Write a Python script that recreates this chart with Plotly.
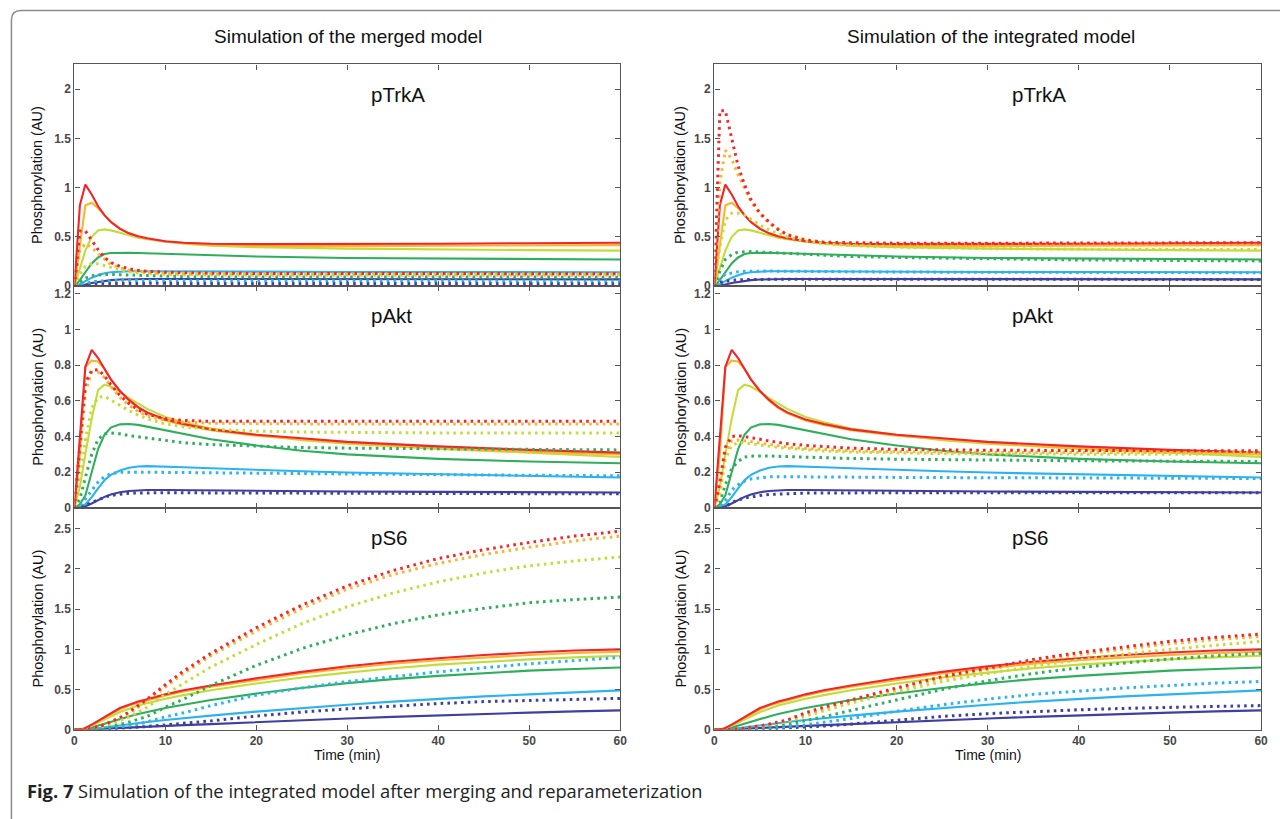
import plotly.graph_objects as go

# ---------------- data ----------------
COLORS = ["#3f3f9e", "#2cb3ee", "#2fae5c", "#c3dc3a", "#fcb32d", "#f0262c"]  # dark blue -> red

X_TICKS = [0, 10, 20, 30, 40, 50, 60]
X_TICK_LABELS = ["0", "10", "20", "30", "40", "50", "60"]

TRKA_TICKS = [0, 0.5, 1, 1.5, 2]
TRKA_TICK_LABELS = ["0", "0.5", "1", "1.5", "2"]
AKT_TICKS = [0, 0.2, 0.4, 0.6, 0.8, 1.0, 1.2]
AKT_TICK_LABELS = ["0", "0.2", "0.4", "0.6", "0.8", "1", "1.2"]
S6_TICKS = [0, 0.5, 1, 1.5, 2, 2.5]
S6_TICK_LABELS = ["0", "0.5", "1", "1.5", "2", "2.5"]

# ---- pTrkA ----
T_TRKA = [0, 0.6, 1.2, 1.9, 2.6, 3.3, 4, 5, 6, 7, 8, 10, 12, 15, 20, 30, 40, 50, 60]
# solid lines (same in both columns), order: dark blue, blue, green, yellow-green, orange, red
TRKA_SOLID = [
    [0, 0.005, 0.015, 0.03, 0.042, 0.052, 0.06, 0.066, 0.07, 0.071, 0.072, 0.072, 0.072, 0.071, 0.07, 0.07, 0.069, 0.068, 0.068],
    [0, 0.02, 0.05, 0.085, 0.11, 0.13, 0.14, 0.148, 0.15, 0.15, 0.15, 0.149, 0.148, 0.146, 0.145, 0.143, 0.142, 0.14, 0.14],
    [0, 0.06, 0.14, 0.23, 0.29, 0.325, 0.335, 0.34, 0.338, 0.335, 0.332, 0.325, 0.318, 0.31, 0.3, 0.285, 0.278, 0.272, 0.27],
    [0, 0.18, 0.36, 0.5, 0.565, 0.575, 0.565, 0.54, 0.515, 0.49, 0.475, 0.45, 0.43, 0.41, 0.395, 0.38, 0.37, 0.365, 0.36],
    [0, 0.4, 0.82, 0.845, 0.79, 0.72, 0.655, 0.585, 0.535, 0.5, 0.48, 0.45, 0.435, 0.42, 0.41, 0.405, 0.41, 0.41, 0.415],
    [0, 0.82, 1.03, 0.93, 0.81, 0.72, 0.65, 0.58, 0.535, 0.505, 0.485, 0.455, 0.44, 0.43, 0.425, 0.425, 0.43, 0.435, 0.44],
]
TRKA_DOT_MERGED = [
    [0, 0.006, 0.012, 0.018, 0.022, 0.025, 0.026, 0.027, 0.027, 0.027, 0.027, 0.027, 0.027, 0.026, 0.026, 0.026, 0.026, 0.026, 0.026],
    [0, 0.015, 0.03, 0.042, 0.05, 0.054, 0.056, 0.057, 0.057, 0.056, 0.056, 0.055, 0.055, 0.054, 0.053, 0.052, 0.052, 0.052, 0.052],
    [0, 0.04, 0.08, 0.105, 0.115, 0.118, 0.118, 0.115, 0.11, 0.105, 0.102, 0.098, 0.095, 0.093, 0.092, 0.09, 0.09, 0.09, 0.09],
    [0, 0.12, 0.2, 0.23, 0.225, 0.21, 0.19, 0.165, 0.145, 0.135, 0.128, 0.12, 0.115, 0.112, 0.11, 0.11, 0.11, 0.11, 0.11],
    [0, 0.36, 0.43, 0.39, 0.33, 0.27, 0.22, 0.185, 0.16, 0.15, 0.14, 0.13, 0.125, 0.122, 0.12, 0.12, 0.12, 0.12, 0.12],
    [0, 0.56, 0.56, 0.46, 0.37, 0.29, 0.24, 0.2, 0.175, 0.16, 0.15, 0.14, 0.135, 0.13, 0.128, 0.126, 0.125, 0.125, 0.125],
]
TRKA_DOT_INTEGRATED = [
    [0, 0.035, 0.05, 0.058, 0.062, 0.065, 0.067, 0.068, 0.069, 0.069, 0.069, 0.069, 0.068, 0.068, 0.068, 0.067, 0.067, 0.067, 0.067],
    [0, 0.07, 0.12, 0.135, 0.145, 0.15, 0.152, 0.152, 0.152, 0.151, 0.15, 0.148, 0.146, 0.144, 0.142, 0.14, 0.138, 0.136, 0.135],
    [0, 0.15, 0.27, 0.32, 0.345, 0.35, 0.35, 0.345, 0.34, 0.335, 0.33, 0.32, 0.31, 0.3, 0.29, 0.275, 0.265, 0.26, 0.255],
    [0, 0.4, 0.67, 0.74, 0.74, 0.72, 0.68, 0.62, 0.57, 0.53, 0.5, 0.455, 0.43, 0.41, 0.395, 0.38, 0.375, 0.37, 0.37],
    [0, 1.05, 1.38, 1.29, 1.13, 0.99, 0.86, 0.73, 0.64, 0.575, 0.525, 0.47, 0.445, 0.43, 0.425, 0.42, 0.42, 0.42, 0.42],
    [0, 1.78, 1.78, 1.5, 1.22, 1.03, 0.88, 0.74, 0.65, 0.575, 0.52, 0.465, 0.445, 0.44, 0.435, 0.435, 0.435, 0.44, 0.44],
]

# ---- pAkt ----
T_AKT = [0, 0.6, 1.2, 1.9, 2.6, 3.3, 4, 5, 6, 7, 8, 10, 12, 15, 20, 25, 30, 40, 50, 60]
AKT_SOLID = [
    [0, 0.003, 0.01, 0.025, 0.045, 0.062, 0.075, 0.088, 0.095, 0.098, 0.1, 0.1, 0.099, 0.098, 0.096, 0.094, 0.092, 0.09, 0.088, 0.086],
    [0, 0.005, 0.02, 0.06, 0.11, 0.155, 0.185, 0.21, 0.225, 0.232, 0.234, 0.232, 0.228, 0.222, 0.212, 0.205, 0.198, 0.188, 0.178, 0.17],
    [0, 0.02, 0.07, 0.2, 0.33, 0.41, 0.45, 0.468, 0.47, 0.465, 0.455, 0.435, 0.415, 0.385, 0.35, 0.32, 0.3, 0.275, 0.26, 0.25],
    [0, 0.12, 0.3, 0.5, 0.66, 0.69, 0.68, 0.65, 0.615, 0.585, 0.555, 0.51, 0.48, 0.445, 0.41, 0.38, 0.36, 0.33, 0.31, 0.285],
    [0, 0.3, 0.79, 0.825, 0.82, 0.78, 0.72, 0.655, 0.6, 0.56, 0.53, 0.49, 0.465, 0.435, 0.405, 0.385, 0.365, 0.335, 0.315, 0.3],
    [0, 0.4, 0.79, 0.885, 0.84, 0.78, 0.72, 0.655, 0.605, 0.565, 0.535, 0.495, 0.47, 0.44, 0.41, 0.39, 0.37, 0.345, 0.325, 0.31],
]
AKT_DOT_MERGED = [
    [0, 0.005, 0.015, 0.03, 0.047, 0.06, 0.07, 0.078, 0.082, 0.084, 0.085, 0.085, 0.085, 0.084, 0.083, 0.083, 0.082, 0.081, 0.08, 0.08],
    [0, 0.01, 0.05, 0.1, 0.145, 0.175, 0.192, 0.2, 0.201, 0.2, 0.2, 0.199, 0.198, 0.196, 0.194, 0.191, 0.189, 0.186, 0.183, 0.18],
    [0, 0.05, 0.17, 0.3, 0.385, 0.415, 0.42, 0.415, 0.405, 0.398, 0.39, 0.375, 0.365, 0.355, 0.345, 0.338, 0.335, 0.33, 0.328, 0.325],
    [0, 0.15, 0.38, 0.56, 0.62, 0.625, 0.605, 0.575, 0.545, 0.52, 0.5, 0.47, 0.455, 0.44, 0.43, 0.425, 0.422, 0.42, 0.42, 0.42],
    [0, 0.3, 0.65, 0.76, 0.76, 0.73, 0.68, 0.62, 0.575, 0.54, 0.515, 0.49, 0.48, 0.475, 0.472, 0.47, 0.47, 0.47, 0.47, 0.47],
    [0, 0.37, 0.7, 0.77, 0.775, 0.74, 0.69, 0.63, 0.585, 0.55, 0.525, 0.5, 0.49, 0.485, 0.485, 0.485, 0.485, 0.485, 0.485, 0.485],
]
AKT_DOT_INTEGRATED = [
    [0, 0.001, 0.005, 0.03, 0.045, 0.055, 0.062, 0.07, 0.075, 0.078, 0.08, 0.083, 0.084, 0.085, 0.085, 0.085, 0.085, 0.085, 0.085, 0.085],
    [0, 0.005, 0.04, 0.1, 0.13, 0.15, 0.162, 0.17, 0.174, 0.175, 0.175, 0.175, 0.174, 0.173, 0.171, 0.17, 0.169, 0.167, 0.166, 0.165],
    [0, 0.03, 0.13, 0.22, 0.26, 0.285, 0.29, 0.292, 0.291, 0.289, 0.287, 0.283, 0.28, 0.277, 0.273, 0.27, 0.267, 0.264, 0.262, 0.26],
    [0, 0.08, 0.27, 0.35, 0.365, 0.365, 0.36, 0.352, 0.345, 0.339, 0.334, 0.325, 0.319, 0.313, 0.307, 0.304, 0.302, 0.3, 0.3, 0.3],
    [0, 0.11, 0.31, 0.375, 0.38, 0.378, 0.372, 0.363, 0.355, 0.348, 0.342, 0.333, 0.327, 0.32, 0.315, 0.312, 0.31, 0.31, 0.31, 0.31],
    [0, 0.145, 0.34, 0.4, 0.405, 0.4, 0.395, 0.385, 0.375, 0.367, 0.36, 0.35, 0.343, 0.335, 0.328, 0.325, 0.323, 0.322, 0.321, 0.32],
]

# ---- pS6 ----
T_S6 = [0, 1, 2, 3, 4, 5, 6, 7, 8, 10, 12, 15, 20, 25, 30, 35, 40, 45, 50, 55, 60]
S6_SOLID = [
    [0, 0.001, 0.005, 0.01, 0.016, 0.022, 0.027, 0.032, 0.037, 0.047, 0.057, 0.07, 0.095, 0.12, 0.14, 0.16, 0.18, 0.198, 0.213, 0.228, 0.24],
    [0, 0.002, 0.012, 0.025, 0.04, 0.055, 0.07, 0.083, 0.095, 0.12, 0.145, 0.175, 0.225, 0.27, 0.31, 0.35, 0.385, 0.415, 0.44, 0.465, 0.49],
    [0, 0.005, 0.03, 0.065, 0.1, 0.135, 0.165, 0.195, 0.22, 0.27, 0.31, 0.37, 0.45, 0.52, 0.58, 0.63, 0.67, 0.705, 0.735, 0.755, 0.775],
    [0, 0.008, 0.055, 0.11, 0.17, 0.22, 0.26, 0.3, 0.33, 0.385, 0.43, 0.49, 0.575, 0.65, 0.71, 0.765, 0.81, 0.845, 0.875, 0.9, 0.92],
    [0, 0.01, 0.065, 0.13, 0.2, 0.255, 0.3, 0.335, 0.365, 0.425, 0.475, 0.535, 0.62, 0.7, 0.765, 0.82, 0.865, 0.9, 0.93, 0.955, 0.97],
    [0, 0.01, 0.07, 0.14, 0.21, 0.27, 0.31, 0.35, 0.38, 0.44, 0.49, 0.55, 0.64, 0.72, 0.79, 0.845, 0.89, 0.93, 0.96, 0.985, 1.0],
]
S6_DOT_MERGED = [
    [0, 0, 0.003, 0.007, 0.012, 0.018, 0.025, 0.032, 0.04, 0.06, 0.08, 0.11, 0.17, 0.22, 0.26, 0.295, 0.325, 0.35, 0.365, 0.38, 0.39],
    [0, 0, 0.005, 0.012, 0.022, 0.035, 0.05, 0.068, 0.1, 0.16, 0.21, 0.3, 0.43, 0.52, 0.6, 0.66, 0.72, 0.77, 0.82, 0.86, 0.9],
    [0, 0, 0.008, 0.02, 0.04, 0.065, 0.095, 0.13, 0.165, 0.28, 0.38, 0.55, 0.8, 1.01, 1.18, 1.32, 1.43, 1.51, 1.58, 1.62, 1.65],
    [0, 0, 0.015, 0.035, 0.07, 0.11, 0.16, 0.22, 0.28, 0.44, 0.58, 0.78, 1.06, 1.32, 1.53, 1.7, 1.84, 1.95, 2.04, 2.1, 2.15],
    [0, 0, 0.02, 0.045, 0.09, 0.14, 0.2, 0.28, 0.36, 0.53, 0.7, 0.92, 1.23, 1.51, 1.75, 1.93, 2.07, 2.18, 2.27, 2.35, 2.41],
    [0, 0, 0.02, 0.05, 0.1, 0.15, 0.22, 0.3, 0.38, 0.56, 0.73, 0.95, 1.27, 1.55, 1.79, 1.98, 2.13, 2.24, 2.33, 2.41, 2.47],
]
S6_DOT_INTEGRATED = [
    [0, 0, 0.001, 0.003, 0.005, 0.008, 0.012, 0.016, 0.02, 0.032, 0.045, 0.07, 0.12, 0.165, 0.2, 0.225, 0.248, 0.265, 0.28, 0.29, 0.3],
    [0, 0, 0.002, 0.005, 0.01, 0.016, 0.023, 0.03, 0.038, 0.06, 0.09, 0.14, 0.23, 0.31, 0.38, 0.44, 0.48, 0.52, 0.55, 0.58, 0.6],
    [0, 0, 0.003, 0.008, 0.016, 0.026, 0.038, 0.052, 0.066, 0.11, 0.16, 0.24, 0.37, 0.5, 0.61, 0.7, 0.77, 0.83, 0.88, 0.92, 0.95],
    [0, 0, 0.004, 0.012, 0.024, 0.04, 0.058, 0.08, 0.1, 0.17, 0.235, 0.33, 0.47, 0.6, 0.7, 0.79, 0.87, 0.94, 1.0, 1.05, 1.1],
    [0, 0, 0.005, 0.014, 0.028, 0.047, 0.066, 0.09, 0.115, 0.19, 0.26, 0.36, 0.5, 0.64, 0.75, 0.85, 0.935, 1.005, 1.07, 1.12, 1.16],
    [0, 0, 0.005, 0.015, 0.03, 0.05, 0.07, 0.095, 0.12, 0.21, 0.28, 0.37, 0.52, 0.66, 0.77, 0.875, 0.96, 1.03, 1.1, 1.15, 1.19],
]

COLUMN_TITLES = ["Simulation of the merged model", "Simulation of the integrated model"]
PANEL_NAMES = ["pTrkA", "pAkt", "pS6"]
Y_TITLE = "Phosphorylation (AU)"
X_TITLE = "Time (min)"
CAPTION_BOLD = "Fig. 7"
CAPTION = " Simulation of the integrated model after merging and reparameterization"

# ---------------- layout helpers ----------------
W, H = 1280, 819
def fx(p):
    return p / W
def fy(p):
    return 1 - p / H

COL_X = [(72, 622), (717, 1268)]
ROW_Y = [(65, 288.5), (288.5, 512.3), (512.3, 736)]
Y_RANGES = [[0, 2.25], [0, 1.243], [0, 2.76]]
Y_TICKS = [(TRKA_TICKS, TRKA_TICK_LABELS), (AKT_TICKS, AKT_TICK_LABELS), (S6_TICKS, S6_TICK_LABELS)]
TIMES = [T_TRKA, T_AKT, T_S6]
SOLIDS = [TRKA_SOLID, AKT_SOLID, S6_SOLID]
DOTS = [[TRKA_DOT_MERGED, TRKA_DOT_INTEGRATED],
        [AKT_DOT_MERGED, AKT_DOT_INTEGRATED],
        [S6_DOT_MERGED, S6_DOT_INTEGRATED]]

AX_COLOR = "#555555"
TICK_FONT = dict(family="Liberation Sans, Arial, sans-serif", size=12, color="#484848", weight="bold")
TXT_FONT = "Liberation Sans, Arial, sans-serif"

fig = go.Figure()
layout = {}
annotations = []
idx = 0
for c in range(2):
    for r in range(3):
        idx += 1
        xa = "x" if idx == 1 else f"x{idx}"
        ya = "y" if idx == 1 else f"y{idx}"
        t = TIMES[r]
        for k in range(6):
            fig.add_trace(go.Scatter(x=t, y=SOLIDS[r][k], mode="lines", xaxis=xa, yaxis=ya,
                                     line=dict(color=COLORS[k], width=2.1), showlegend=False,
                                     hoverinfo="skip"))
        for k in range(6):
            fig.add_trace(go.Scatter(x=t, y=DOTS[r][c][k], mode="lines", xaxis=xa, yaxis=ya,
                                     line=dict(color=COLORS[k], width=3, dash="2.6px,4.2px"),
                                     showlegend=False, hoverinfo="skip"))
        x0, x1 = COL_X[c]
        y0, y1 = ROW_Y[r]
        xkey = "xaxis" if idx == 1 else f"xaxis{idx}"
        ykey = "yaxis" if idx == 1 else f"yaxis{idx}"
        layout[xkey] = dict(domain=[fx(x0), fx(x1)], range=[0, 60], anchor=ya,
                            tickvals=X_TICKS, ticktext=X_TICK_LABELS,
                            showticklabels=(r == 2), ticks="inside", ticklen=5, tickwidth=1.2,
                            tickcolor=AX_COLOR, showline=True, linecolor=AX_COLOR, linewidth=1.4,
                            mirror="ticks", showgrid=False, zeroline=False, tickfont=TICK_FONT,
                            fixedrange=True)
        tv, tt = Y_TICKS[r]
        layout[ykey] = dict(domain=[fy(y1), fy(y0)], range=Y_RANGES[r], anchor=xa,
                            tickvals=tv, ticktext=tt, ticks="inside", ticklen=5, tickwidth=1.2,
                            tickcolor=AX_COLOR, showline=True, linecolor=AX_COLOR, linewidth=1.4,
                            mirror="ticks", showgrid=False, zeroline=False, tickfont=TICK_FONT,
                            fixedrange=True)
        # panel label
        label_y = [95, 318, 542][r]
        annotations.append(dict(text=PANEL_NAMES[r], x=fx(x0 + (x1 - x0) * 32.4 / 60), y=fy(label_y),
                                xref="paper", yref="paper", xanchor="left", yanchor="middle",
                                showarrow=False, font=dict(family=TXT_FONT, size=20.5, color="#111")))
        # y title
        ytx = [35, 683][c]
        annotations.append(dict(text=Y_TITLE, x=fx(ytx), y=fy((y0 + y1) / 2), xref="paper", yref="paper",
                                xanchor="center", yanchor="middle", textangle=-90, showarrow=False,
                                font=dict(family=TXT_FONT, size=14.5, color="#111")))
    # column title
    annotations.append(dict(text=COLUMN_TITLES[c], x=fx([348, 996][c]), y=fy(37), xref="paper", yref="paper",
                            xanchor="center", yanchor="middle", showarrow=False,
                            font=dict(family=TXT_FONT, size=19, color="#111")))
    # x title
    annotations.append(dict(text=X_TITLE, x=fx((COL_X[c][0] + COL_X[c][1]) / 2), y=fy(762),
                            xref="paper", yref="paper", xanchor="center", yanchor="middle",
                            showarrow=False, font=dict(family=TXT_FONT, size=14, color="#111")))

annotations.append(dict(text=f"<b>{CAPTION_BOLD}</b>{CAPTION}", x=fx(22), y=fy(797), xref="paper", yref="paper",
                        xanchor="left", yanchor="middle", showarrow=False,
                        font=dict(family="Open Sans, Noto Sans, sans-serif", size=18.3, color="#222")))

# outer frame (rounded top-left corner, open to the right/bottom)
frame_path = (f"M {fx(8.5)},{fy(830)} L {fx(8.5)},{fy(20)} "
              f"Q {fx(8.5)},{fy(10.5)} {fx(18)},{fy(10.5)} L {fx(1300)},{fy(10.5)}")
shapes = [dict(type="path", path=frame_path, xref="paper", yref="paper",
               line=dict(color="#8a8a8a", width=1.5))]

fig.update_layout(width=W, height=H, margin=dict(l=0, r=0, t=0, b=0),
                  paper_bgcolor="white", plot_bgcolor="white",
                  annotations=annotations, shapes=shapes, showlegend=False, **layout)

fig.write_html("out.html", config={"displayModeBar": False},
               post_script="document.body.style.margin='0';document.body.style.overflow='hidden';")
